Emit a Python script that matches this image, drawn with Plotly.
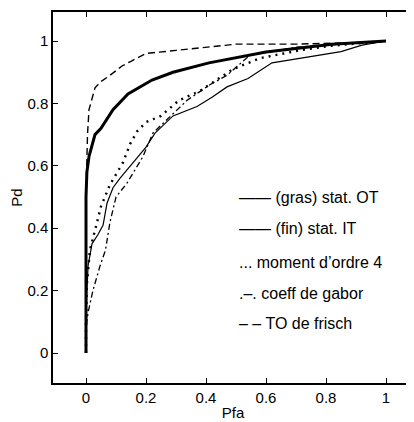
import plotly.graph_objects as go

# ROC curves: Pfa (x) vs Pd (y)
gras_x = [0, 0, 0.003, 0.01, 0.03, 0.05, 0.09, 0.14, 0.22, 0.29, 0.41, 0.6, 0.82, 1]
gras_y = [0, 0.5, 0.58, 0.63, 0.7, 0.72, 0.78, 0.83, 0.875, 0.9, 0.93, 0.965, 0.99, 1]

fin_x = [0, 0, 0.003, 0.007, 0.02, 0.04, 0.057, 0.07, 0.09, 0.113, 0.157, 0.2, 0.23, 0.29, 0.37, 0.42, 0.47, 0.54, 0.62, 0.74, 0.85, 0.92, 1]
fin_y = [0, 0.1, 0.2, 0.28, 0.35, 0.38, 0.41, 0.48, 0.53, 0.56, 0.61, 0.66, 0.705, 0.76, 0.79, 0.82, 0.853, 0.88, 0.93, 0.95, 0.966, 0.987, 1]

mom_x = [0, 0, 0.003, 0.013, 0.037, 0.05, 0.08, 0.103, 0.123, 0.147, 0.17, 0.2, 0.25, 0.31, 0.38, 0.49, 0.58, 0.71, 0.82, 1]
mom_y = [0, 0.1, 0.22, 0.33, 0.42, 0.47, 0.54, 0.58, 0.61, 0.67, 0.71, 0.74, 0.76, 0.81, 0.84, 0.91, 0.945, 0.97, 0.985, 1]

gab_x = [0, 0, 0.007, 0.023, 0.047, 0.065, 0.08, 0.1, 0.137, 0.19, 0.223, 0.28, 0.337, 0.413, 0.47, 0.547, 0.7, 0.85, 1]
gab_y = [0, 0.08, 0.13, 0.2, 0.28, 0.33, 0.42, 0.5, 0.545, 0.63, 0.705, 0.757, 0.81, 0.86, 0.89, 0.955, 0.98, 0.99, 1]

fri_x = [0, 0, 0.005, 0.01, 0.03, 0.05, 0.08, 0.12, 0.15, 0.2, 0.3, 0.4, 0.5, 0.7, 0.9, 1]
fri_y = [0, 0.5, 0.7, 0.78, 0.85, 0.87, 0.89, 0.92, 0.935, 0.96, 0.97, 0.98, 0.99, 0.99, 0.995, 1]

tick_vals = [0, 0.2, 0.4, 0.6, 0.8, 1]
tick_text = ["0", "0.2", "0.4", "0.6", "0.8", "1"]

legend_labels = ["—— (gras) stat. OT", "—— (fin) stat. IT", "... moment d’ordre 4",
                 ".–. coeff de gabor", "– – TO de frisch"]
legend_y = [0.5, 0.40, 0.29, 0.19, 0.096]

FONT = "Liberation Sans, Arial, sans-serif"

fig = go.Figure()
fig.add_trace(go.Scatter(x=fri_x, y=fri_y, mode="lines", line=dict(color="black", width=1.4, dash="7px,4px")))
fig.add_trace(go.Scatter(x=gab_x, y=gab_y, mode="lines", line=dict(color="black", width=1.3, dash="6px,3px,2px,3px")))
fig.add_trace(go.Scatter(x=mom_x, y=mom_y, mode="lines", line=dict(color="black", width=2.4, dash="2px,5px")))
fig.add_trace(go.Scatter(x=fin_x, y=fin_y, mode="lines", line=dict(color="black", width=1.2)))
fig.add_trace(go.Scatter(x=gras_x, y=gras_y, mode="lines", line=dict(color="black", width=3)))

for lab, yy in zip(legend_labels, legend_y):
    fig.add_annotation(x=0.503, y=yy, xref="x", yref="y", text=lab, showarrow=False,
                       xanchor="left", yanchor="middle",
                       font=dict(family=FONT, size=16, color="black"))

axis_common = dict(tickvals=tick_vals, ticktext=tick_text,
                   ticks="inside", ticklen=5, tickcolor="black", mirror="ticks",
                   showline=True, linecolor="black", linewidth=1.5, showgrid=False,
                   zeroline=False, automargin=False,
                   tickfont=dict(family=FONT, size=15, color="black"))

# page body adds an 8px offset; figure sized to fill the 414x422 window
fig.update_layout(
    width=406, height=414,
    margin=dict(l=45, r=1, t=4, b=39),
    paper_bgcolor="white", plot_bgcolor="white",
    showlegend=False,
    xaxis=dict(**axis_common, range=[-0.11, 1.09],
               title=dict(text="Pfa", standoff=3, font=dict(family=FONT, size=15, color="black"))),
    yaxis=dict(**axis_common, range=[-0.096, 1.093],
               title=dict(text="Pd", standoff=1, font=dict(family=FONT, size=15, color="black"))),
)

fig.write_html("out.html")
